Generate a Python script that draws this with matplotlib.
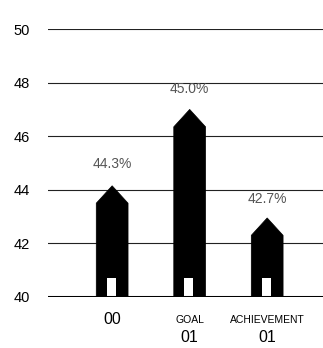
import matplotlib
matplotlib.use("Agg")
import matplotlib.pyplot as plt
from matplotlib.patches import Polygon, Rectangle
from matplotlib.transforms import blended_transform_factory

# values
categories = ["00", "01", "01"]
cat_titles = ["", "GOAL", "ACHIEVEMENT"]
body_tops = [43.5, 46.35, 42.3]      # height of the wall (shoulder of the roof)
roof = 0.65                           # roof height above the wall
labels = ["44.3%", "45.0%", "42.7%"]
label_y = [44.95, 47.75, 43.65]
yticks = [40, 42, 44, 46, 48, 50]

plt.rcParams['font.family'] = ['Liberation Sans', 'DejaVu Sans']

fig = plt.figure(figsize=(3.23, 3.48), dpi=100)
ax = fig.add_axes([0.149, 0.1466, 0.851, 0.770])

w = 0.41      # house width
dw = 0.116    # door width
dh = 0.7      # door height
base = 40

for i, top in enumerate(body_tops):
    x0, x1 = i - w / 2, i + w / 2
    house = Polygon([(x0, base), (x0, top), (i, top + roof), (x1, top), (x1, base)],
                    closed=True, facecolor='black', edgecolor='black', lw=0.5, zorder=3)
    ax.add_patch(house)
    ax.add_patch(Rectangle((i - dw / 2 - 0.01, base), dw, dh, facecolor='white',
                           edgecolor='none', zorder=4))
    ax.text(i, label_y[i], labels[i], ha='center', va='center', fontsize=10,
            color='#555555', zorder=5)

for y in yticks[1:]:
    ax.axhline(y, color='#222222', lw=0.8, zorder=1)
ax.axhline(40, color='black', lw=2.2, zorder=6)

ax.set_xlim(-0.826, 2.72)
ax.set_ylim(40, 50)
ax.set_yticks(yticks)
ax.set_yticklabels([str(v) for v in yticks], fontsize=10.5)
ax.tick_params(axis='y', length=0, pad=13)
ax.set_xticks([])
for s in ax.spines.values():
    s.set_visible(False)
ax.patch.set_alpha(0)

trans = blended_transform_factory(ax.transData, fig.transFigure)
for i, (cat, title) in enumerate(zip(categories, cat_titles)):
    if title:
        ax.text(i, 1 - 320 / 348, title, transform=trans, ha='center', va='center',
                fontsize=7.5)
        ax.text(i, 1 - 337 / 348, cat, transform=trans, ha='center', va='center',
                fontsize=11.5)
    else:
        ax.text(i, 1 - 319 / 348, cat, transform=trans, ha='center', va='center',
                fontsize=11.5)

fig.savefig("out.png", dpi=100)
